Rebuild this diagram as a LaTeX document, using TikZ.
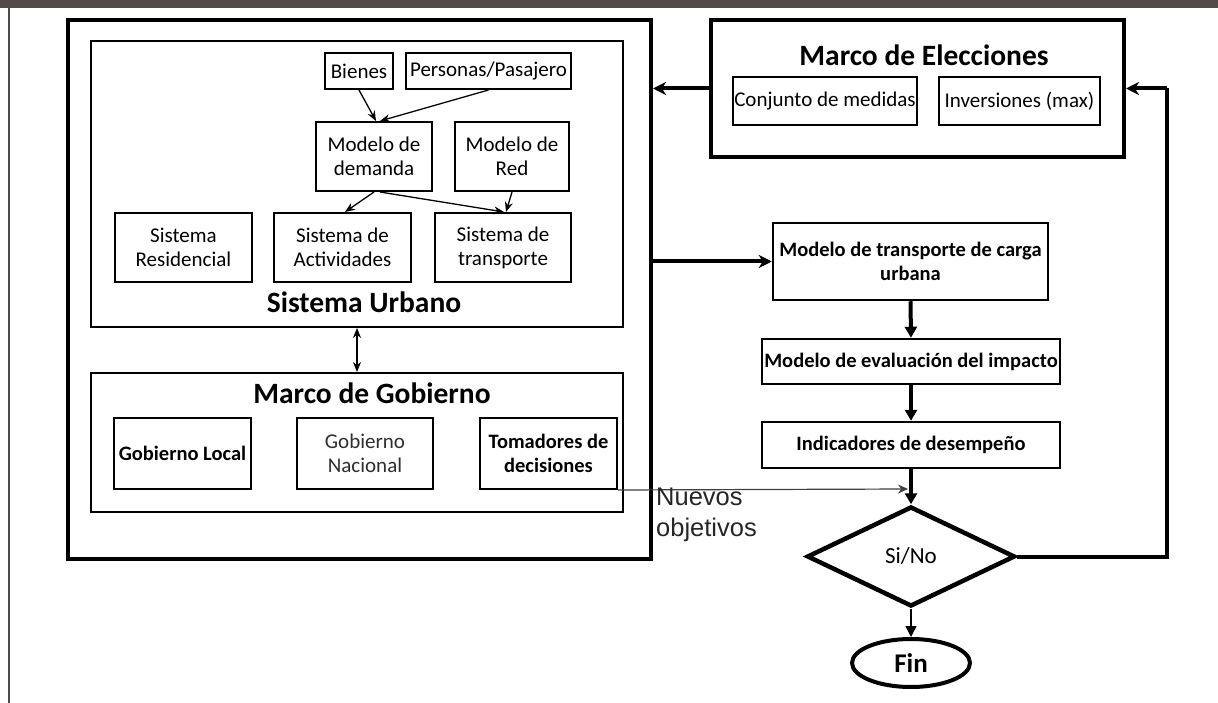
\documentclass[tikz,border=0pt]{standalone}
\usepackage{fontspec}
\setmainfont{Carlito}
\newfontfamily\arialf{Liberation Sans}
\usetikzlibrary{arrows.meta,shapes.geometric}
\definecolor{barcol}{HTML}{544A47}
\tikzset{
  lbl/.style={font=\fontsize{21}{24}\selectfont, align=center, inner sep=0pt},
  blbl/.style={font=\fontsize{20.5}{24}\selectfont\bfseries, align=center, inner sep=0pt},
  head/.style={font=\fontsize{29.5}{32}\selectfont\bfseries, inner sep=0pt},
  bx/.style 2 args={draw, line width=2pt, minimum width=#1pt, minimum height=#2pt},
  bigbx/.style 2 args={draw, line width=4pt, minimum width=#1pt, minimum height=#2pt, inner sep=0pt},
  flow/.style 2 args={draw, line width=2.5pt, minimum width=#1pt, minimum height=#2pt, blbl},
  thin/.style={line width=1.3pt, -{Stealth[length=10pt,width=8pt]}},
  thickh/.style={line width=4pt, -{Stealth[length=13pt,width=13pt,inset=4pt]}},
  thickv/.style={line width=4pt, -{Triangle[length=11pt,width=12pt]}},
}
\begin{document}
\begin{tikzpicture}[x=1pt,y=-1pt]
\useasboundingbox (0,0) rectangle (1218,703);
\fill[white] (0,0) rectangle (1218,703);
\fill[barcol] (0,0) rectangle (1218,8);
\draw[line width=2pt, black!70] (9,8) -- (9,703);

% left outer structure
\node[bigbx={583}{539}] (outer) at (359.5,289.5) {};
\node[bx={532}{286}] (su) at (357,184) {};
\node[bx={68}{36}, lbl] (bien) at (359,71) {Bienes};
\node[bx={165}{36}, lbl] (pers) at (488.5,71) {Personas/Pasajero};
\node[bx={116}{69}, lbl] (dem) at (374,156.5) {Modelo de\\demanda};
\node[bx={114}{69}, lbl] (red) at (512,156.5) {Modelo de\\Red};
\node[bx={137}{69}, lbl] (res) at (183.5,247.5) {Sistema\\Residencial};
\node[bx={137}{69}, lbl] (act) at (342.5,247.5) {Sistema de\\Actividades};
\node[bx={136}{69}, lbl] (tra) at (503,247.5) {Sistema de\\transporte};
\node[head] (sulbl) at (364,302) {Sistema Urbano};

\draw[thin] (bien.south) -- ([xshift=2pt]dem.north);
\draw[thin] (pers.south) -- ([xshift=6pt]dem.north);
\draw[thin] (dem.south) -- ([xshift=2.5pt]act.north);
\draw[thin] ([xshift=6pt]dem.south) -- ([xshift=1pt]tra.north);
\draw[thin] (red.south) -- ([xshift=3pt]tra.north);

\node[bx={532}{139}] (gob) at (357,442.5) {};
\node[head] (goblbl) at (372,393) {Marco de Gobierno};
\node[bx={137}{71}, blbl] (gl) at (182.5,453.5) {Gobierno Local};
\node[bx={136}{71}, lbl, text=black!82] (gn) at (365,453.5) {Gobierno\\Nacional};
\node[bx={137}{71}, blbl] (tom) at (548.5,453.5) {Tomadores de\\decisiones};

\draw[line width=1.3pt, {Stealth[length=10pt,width=8pt]}-{Stealth[length=10pt,width=8pt]}] (su.south) -- (gob.north);

% Marco de Elecciones
\node[bigbx={413}{137}] (elec) at (917.5,88.5) {};
\node[head] (eleclbl) at (924,55) {Marco de Elecciones};
\node[bx={184}{48}, lbl] (conj) at (825,101) {Conjunto de medidas};
\node[bx={161}{48}, lbl] (inv) at (1019.5,101) {Inversiones (max)};

% flow column
\node[flow={275}{77}] (carga) at (910.5,261.5) {Modelo de transporte de carga\\urbana};
\node[flow={298}{45}] (eval) at (911,361.5) {Modelo de evaluación del impacto};
\node[flow={298}{46}] (ind) at (911,445) {Indicadores de desempeño};
\node[draw, diamond, line width=4.5pt, minimum width=208pt, minimum height=100pt, inner sep=0pt, font=\fontsize{23}{26}\selectfont] (dia) at (911,556.5) {Si/No};
\node[draw, ellipse, line width=4pt, minimum width=118pt, minimum height=48pt, inner sep=0pt, font=\fontsize{27}{30}\selectfont\bfseries] (fin) at (911,663) {Fin};

\draw[thickh] (elec.west) -- (elec.west -| outer.east);
\draw[thickh] (carga.west -| outer.east) -- (carga.west);
\draw[thickv] (carga.south) -- (eval.north);
\draw[thickv] (eval.south) -- (ind.north);
\draw[thickv] (ind.south) -- (dia.north);
\draw[line width=1.5pt, -{Triangle[length=11pt,width=11pt]}] (dia.south) -- (fin.north);

\coordinate (fb) at (1167,88.5);
\draw[line width=4pt, line join=miter] (dia.east) -| (fb);
\draw[thickh] (fb) -- (elec.east);

\coordinate (nv) at (908,489);
\draw[line width=1.2pt, black!75, -{Stealth[length=10pt,width=9pt]}] (tom.south east) -- (nv);
\node[anchor=north west, inner sep=0pt, align=left, font=\arialf\fontsize{25.5}{31}\selectfont, text=black!85] (nuevos) at (656,488) {Nuevos\\objetivos};
\end{tikzpicture}
\end{document}
